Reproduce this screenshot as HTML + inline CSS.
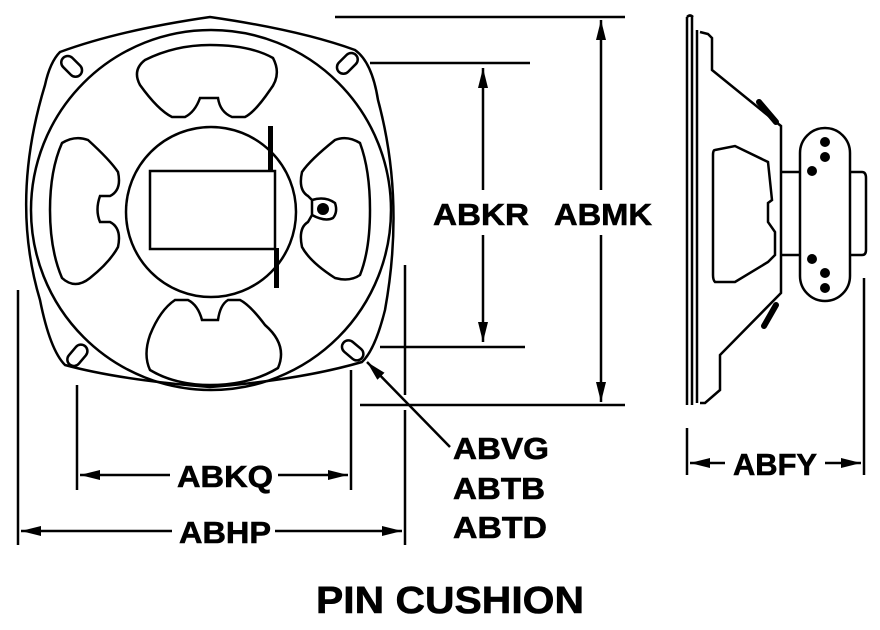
<!DOCTYPE html>
<html><head><style>
html,body{margin:0;padding:0;background:#fff;}
svg{display:block}
text{font-family:"Liberation Sans",Arial,sans-serif;font-weight:bold;fill:#000}
</style></head><body>
<svg width="880" height="630" viewBox="0 0 880 630" xmlns="http://www.w3.org/2000/svg">
<defs>
<marker id="a" viewBox="0 0 20 10" refX="20" refY="5" markerWidth="20" markerHeight="10" markerUnits="userSpaceOnUse" orient="auto-start-reverse"><path d="M0,0L20,5L0,10z"/></marker>
</defs>
<g fill="none" stroke="#000" stroke-width="2.5">
<path d="M60,52 Q120,30 210,17 Q300,30 355,50 Q372,62 378,100 Q405,200 385,310 Q375,350 362,362 Q300,380 210,387 Q120,380 65,365 Q50,350 40,300 Q10,200 45,85 Q50,62 60,52 Z"/>
<circle cx="211" cy="210" r="180"/>
<circle cx="211" cy="212" r="85"/>
<rect x="150" y="171" width="125" height="78"/>
<path d="M145,60 Q175,45 210,45 Q250,45 273,58 Q282,75 270,90 Q255,112 245,117 L232,117 Q220,112 218,98 L200,98 Q195,112 185,117 L172,117 Q158,110 140,85 Q132,70 145,60 Z"/>
<path d="M150,370 Q175,385 210,385 Q250,385 278,368 Q288,345 265,325 Q250,305 240,300 L228,300 Q220,305 218,320 L202,320 Q198,305 188,300 L175,300 Q160,310 150,335 Q143,355 150,370 Z"/>
<path d="M62,143 Q75,135 88,140 Q110,160 118,172 Q122,190 110,196 L100,196 Q95,210 100,222 L110,222 Q122,228 118,247 Q110,262 90,278 Q75,290 62,278 Q50,250 50,210 Q50,170 62,143 Z"/>
<path d="M360,143 Q347,135 335,140 Q310,160 302,172 Q298,190 308,196 L312,200 L312,215 L308,222 Q298,228 302,247 Q310,262 335,278 Q350,282 360,275 Q370,250 370,210 Q370,170 360,143 Z"/>
<path d="M312,200 Q325,196 335,203 Q338,212 333,218 Q325,222 312,215"/>
<rect x="60" y="60" width="24" height="13" rx="6.5" transform="rotate(45 72 66)"/>
<rect x="335" y="57" width="24" height="13" rx="6.5" transform="rotate(-45 347 63)"/>
<rect x="65" y="349" width="24" height="13" rx="6.5" transform="rotate(-50 77 355)"/>
<rect x="341" y="344" width="24" height="13" rx="6.5" transform="rotate(40 353 350)"/>
</g>
<circle cx="323" cy="209" r="6"/>
<rect x="268" y="126" width="5" height="46"/>
<rect x="274" y="248" width="5" height="40"/>
<g stroke="#000" stroke-width="2.5" fill="none">
<path d="M687,17 L687,405 M692,17 L692,405 M697,30 L697,403"/>
<path d="M687,17 Q690,14 693,17"/>
<path d="M700,32 L708,34 L712,38 L712,70 L781,126 L781,293 L720,355 L720,390 L705,403 L700,403"/>
<path d="M715,150 L735,146 L768,162 L772,200 L768,203 L768,222 L775,232 L775,255 L768,262 L735,282 L715,282 Q713,280 713,275 L713,155 Q713,150 715,150 Z"/>
<path d="M781,172 L800,172 M781,255 L800,255"/>
<rect x="800" y="128" width="50" height="173" rx="25"/>
<path d="M850,172 L862,172 Q866,172 866,178 L866,250 Q866,255 862,255 L850,255"/>
<path d="M335,17 L625,17 M360,405 L625,405 M370,63 L530,63 M380,347 L525,347"/>
<path d="M601,20 L601,190 M601,235 L601,402" marker-start="url(#a)" marker-end="url(#a)"/>
<path d="M483,68 L483,190 M483,235 L483,342" marker-start="url(#a)" marker-end="url(#a)"/>
<path d="M77,385 L77,490 M351,370 L351,490 M18,290 L18,545 M405,265 L405,395 M405,410 L405,545"/>
<path d="M687,428 L687,475 M864,278 L864,475"/>
<path d="M450,447 L367,362" marker-end="url(#a)"/>
</g>
<g stroke="#000" stroke-width="6" stroke-linecap="round">
<line x1="759" y1="102" x2="776" y2="122"/>
<line x1="764" y1="326" x2="776" y2="305"/>
</g>
<g stroke="#000" stroke-width="2.5">
<line x1="80" y1="475" x2="170" y2="475" marker-start="url(#a)"/>
<line x1="278" y1="475" x2="348" y2="475" marker-end="url(#a)"/>
<line x1="21" y1="531" x2="172" y2="531" marker-start="url(#a)"/>
<line x1="275" y1="531" x2="402" y2="531" marker-end="url(#a)"/>
<line x1="690" y1="463" x2="725" y2="463" marker-start="url(#a)"/>
<line x1="825" y1="463" x2="861" y2="463" marker-end="url(#a)"/>
</g>
<g fill="#000">
<circle cx="825" cy="142" r="5"/><circle cx="825" cy="157" r="5"/><circle cx="812" cy="171" r="5"/>
<circle cx="812" cy="259" r="5"/><circle cx="825" cy="273" r="5"/><circle cx="825" cy="288" r="5"/>
</g>
<g font-size="31" stroke="#000" stroke-width="0.6">
<text x="481" y="225" text-anchor="middle" textLength="96" lengthAdjust="spacingAndGlyphs">ABKR</text>
<text x="603" y="225" text-anchor="middle" textLength="98" lengthAdjust="spacingAndGlyphs">ABMK</text>
<text x="225" y="487" text-anchor="middle" textLength="96" lengthAdjust="spacingAndGlyphs">ABKQ</text>
<text x="225" y="543" text-anchor="middle" textLength="92" lengthAdjust="spacingAndGlyphs">ABHP</text>
<text x="775" y="475" text-anchor="middle" textLength="84" lengthAdjust="spacingAndGlyphs">ABFY</text>
<text x="453" y="459" textLength="96" lengthAdjust="spacingAndGlyphs">ABVG</text>
<text x="453" y="499" textLength="92" lengthAdjust="spacingAndGlyphs">ABTB</text>
<text x="453" y="538" textLength="94" lengthAdjust="spacingAndGlyphs">ABTD</text>
<text x="450" y="613" text-anchor="middle" font-size="38" textLength="268" lengthAdjust="spacingAndGlyphs">PIN CUSHION</text>
</g>
</svg>
</body></html>
